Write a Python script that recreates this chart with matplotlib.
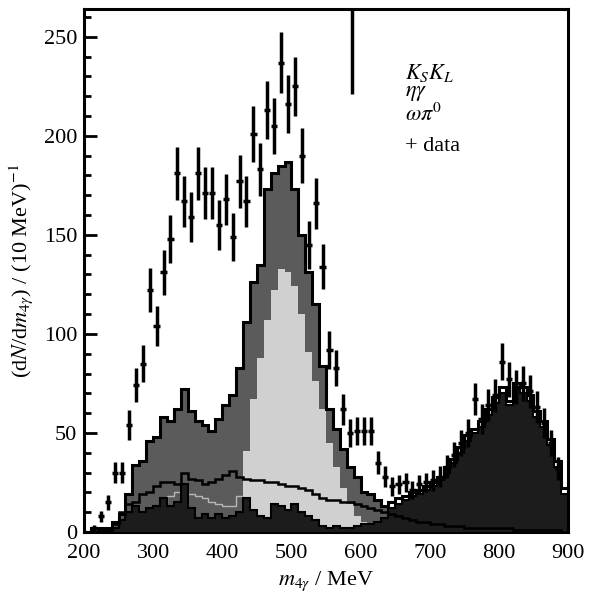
"""Four-photon invariant mass: MC components and data."""

import matplotlib
matplotlib.use("Agg")
import matplotlib.pyplot as plt
import numpy as np

plt.rcParams["font.family"] = ["Liberation Serif", "DejaVu Serif"]
plt.rcParams["mathtext.fontset"] = "stix"

# bin edges, 10 MeV bins from 200 to 900 MeV
EDGES = np.arange(200, 910, 10)

# total MC (outer outline)
TOTAL = [0, 2, 2, 2, 5, 9, 19, 34, 36, 46,
         48, 58, 56, 62, 72, 61, 56, 54, 51, 57,
         64, 69, 83, 106, 126, 135, 173, 181, 185, 187,
         173, 150, 131, 115, 84, 62, 52, 42, 33, 28,
         20, 19, 16, 13, 15, 17, 18, 20, 21, 23,
         25, 28, 33, 37, 43, 49, 52, 56, 62, 68,
         73, 66, 75, 73, 69, 61, 56, 47, 36, 22]

# eta gamma
ETA_GAMMA = [0, 0, 0, 0, 0, 0, 0, 3, 6, 8,
             10, 14, 18, 20, 21, 19, 18, 17, 15, 14,
             13, 13, 18, 41, 67, 88, 107, 122, 133, 131,
             124, 110, 91, 76, 62, 45, 33, 22, 14, 8,
             5, 3, 2, 1, 0, 0, 0, 0, 0, 0,
             0, 0, 0, 0, 0, 0, 0, 0, 0, 0,
             0, 0, 0, 0, 0, 0, 0, 0, 0, 0]

# omega pi0
OMEGA_PI0 = [0, 0, 0, 0, 4, 10, 14, 15, 19, 20,
             23, 25, 25, 24, 30, 27, 26, 24, 25, 27,
             29, 31, 28, 27, 26, 26, 25, 25, 24, 23,
             23, 22, 21, 19, 17, 16, 16, 15, 15, 14,
             13, 12, 11, 10, 9, 8, 7, 6, 5, 5,
             4, 4, 3, 3, 3, 2, 2, 2, 2, 2,
             2, 2, 1, 1, 1, 1, 1, 1, 1, 0]

# K_S K_L
KSKL = [0, 0, 1, 1, 2, 6, 10, 13, 10, 12,
        13, 17, 13, 15, 24, 12, 7, 9, 7, 9,
        7, 8, 10, 17, 11, 8, 7, 14, 13, 11,
        14, 10, 8, 6, 3, 2, 3, 2, 2, 3,
        4, 4, 5, 7, 12, 14, 16, 18, 19, 21,
        23, 26, 30, 35, 40, 46, 50, 53, 59, 65,
        70, 64, 72, 70, 66, 58, 53, 44, 33, 19]

# data points (bin centres, counts)
DATA_M = [215, 225, 235, 245, 255, 265, 275, 285, 295, 305,
          315, 325, 335, 345, 355, 365, 375, 385, 395, 405,
          415, 425, 435, 445, 455, 465, 475, 485, 495, 505,
          515, 525, 535, 545, 555, 565, 575, 585, 595, 605,
          615, 625, 635, 645, 655, 665, 675, 685, 695, 705,
          715, 725, 735, 745, 755, 765, 775, 785, 795, 805,
          815, 825, 835, 845, 855, 865, 875, 885]
DATA_N = [2, 8, 15, 30, 30, 54, 74, 85, 122, 104,
          131, 148, 181, 167, 159, 181, 171, 171, 155, 168,
          149, 177, 167, 201, 183, 213, 205, 237, 216, 225,
          190, 145, 166, 134, 92, 83, 62, 50, 51, 51,
          51, 35, 28, 23, 24, 25, 21, 24, 25, 26,
          28, 33, 39, 45, 50, 67, 57, 64, 69, 86,
          77, 73, 75, 71, 63, 55, 45, 32]

# stray vertical stroke in the scanned figure
STROKE_M = 587
STROKE_LOW = 221

DARK = "#5b5b5b"
LIGHT = "#d0d0d0"
BLACKISH = "#1c1c1c"

total = np.array(TOTAL, dtype=float)
eta = np.array(ETA_GAMMA, dtype=float)
omega = np.array(OMEGA_PI0, dtype=float)
kskl = np.array(KSKL, dtype=float)
left = EDGES[:-1]

fig = plt.figure(figsize=(5.97, 5.94), dpi=100)
ax = fig.add_axes([0.1407, 0.1044, 0.8107, 0.8804])

# dark fill under total only outside the K_S K_L hump
dark_fill = np.where(left < 640, total, kskl)
ax.stairs(dark_fill, EDGES, fill=True, color=DARK, zorder=1)

# eta gamma: filled in the peak, faint line in the tail
eta_fill = np.where(left >= 430, eta, 0)
ax.stairs(eta_fill, EDGES, fill=True, color=LIGHT, zorder=2)
ax.stairs(np.where(left < 430, eta, np.nan), EDGES, color="#b8b8b8", lw=1.0, zorder=2)

ax.stairs(kskl, EDGES, fill=True, color=BLACKISH, zorder=3)
ax.stairs(kskl, EDGES, color="black", lw=1.5, zorder=3)
ax.stairs(omega, EDGES, color="black", lw=1.8, zorder=4)
ax.stairs(total, EDGES, color="black", lw=2.2, zorder=5)

n = np.array(DATA_N, dtype=float)
ax.errorbar(DATA_M, n, yerr=np.sqrt(n), xerr=4.5, fmt="none",
            ecolor="black", elinewidth=2.5, capsize=0, zorder=6)

ax.vlines(STROKE_M, STROKE_LOW, 270, color="black", lw=2.5, zorder=6)

ax.set_xlim(200, 900)
ax.set_ylim(0, 264)
ax.set_xticks(range(200, 901, 100))
ax.set_yticks(range(0, 251, 50))
ax.set_yticks(range(0, 261, 10), minor=True)
ax.tick_params(axis="y", which="major", direction="in", length=9, width=2,
               labelsize=16, pad=5)
ax.tick_params(axis="y", which="minor", direction="in", length=5, width=2)
ax.tick_params(axis="x", length=0, labelsize=16, pad=9)
for side in ax.spines.values():
    side.set_linewidth(2.2)

ax.set_xlabel(r"$m_{4\gamma}$ / MeV", fontsize=16, labelpad=4)
ax.set_ylabel(r"(d$N$/d$m_{4\gamma}$) / (10 MeV)$^{-1}$", fontsize=16, labelpad=6)

labels = [r"$K_SK_L$", r"$\eta\gamma$", r"$\omega\pi^0$", "+ data"]
ys = [0.866, 0.834, 0.786, 0.728]
for lab, yy in zip(labels, ys):
    ax.text(0.663, yy, lab, transform=ax.transAxes, fontsize=16, va="baseline")

fig.savefig("out.png", dpi=100)
